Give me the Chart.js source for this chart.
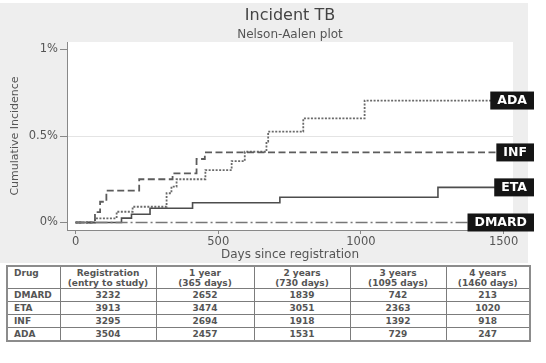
<!DOCTYPE html>
<html lang="en">
<head>
<meta charset="UTF-8">
<title>Incident TB</title>
<script src="https://cdn.jsdelivr.net/npm/chart.js"></script>
<style>
  body { margin: 0; background: #fff; }
  #wrap { position: relative; width: 546px; height: 363px; }
  #tbChart { position: absolute; left: 0; top: 0; }
  #riskTable {
    position: absolute; left: 6px; top: 265px; width: 523px;
    border-collapse: collapse; table-layout: fixed;
    font: bold 9px "DejaVu Sans", sans-serif; color: #555;
    border: 2px solid #8c8c8c;
  }
  #riskTable td, #riskTable th {
    border: 1px solid #7c7c7c; padding: 0; text-align: center;
    line-height: 12px; height: 12px; font-weight: bold;
  }
  #riskTable th { vertical-align: top; line-height: 10px; height: 20px; padding-top: 1px; }
  #riskTable .drug { text-align: left; padding-left: 6px; }
</style>
</head>
<body>
<div id="wrap">
  <canvas id="tbChart" width="546" height="265"></canvas>
  <table id="riskTable"></table>
</div>

<script>
// Nelson-Aalen cumulative incidence (%), step times in days
const dmardDays = [0, 1500];
const dmardInc  = [0, 0];
const etaDays = [0, 161, 196, 261, 410, 716, 1270, 1500];
const etaInc  = [0, 0.025, 0.048, 0.082, 0.114, 0.146, 0.203, 0.203];
const infDays = [0, 68, 86, 108, 223, 340, 424, 453, 1500];
const infInc  = [0, 0.06, 0.12, 0.184, 0.25, 0.284, 0.367, 0.405, 0.405];
const adaDays = [0, 68, 144, 200, 319, 336, 354, 455, 547, 593, 669, 675, 798, 1013, 1500];
const adaInc  = [0, 0.024, 0.062, 0.091, 0.169, 0.207, 0.25, 0.303, 0.355, 0.409, 0.467, 0.525, 0.602, 0.705, 0.705];

const xTicks = [0, 500, 1000, 1500];
const yTicks = [0, 0.5, 1];

// numbers at risk
const tableHeaders = [["Drug"], ["Registration", "(entry to study)"], ["1 year", "(365 days)"],
                      ["2 years", "(730 days)"], ["3 years", "(1095 days)"], ["4 years", "(1460 days)"]];
const tableDrugs = ["DMARD", "ETA", "INF", "ADA"];
const atRisk = [
    [3232, 2652, 1839, 742, 213],
    [3913, 3474, 3051, 2363, 1020],
    [3295, 2694, 1918, 1392, 918],
    [3504, 2457, 1531, 729, 247]
];

const FONT = '"DejaVu Sans", sans-serif';

function toPoints(days, inc) {
    return days.map((d, i) => ({ x: d, y: inc[i] }));
}

// grey graph region, white plot region, titles
const panelPlugin = {
    id: "panel",
    beforeDraw(chart) {
        const { ctx, chartArea } = chart;
        ctx.save();
        ctx.fillStyle = "#eeeeee";
        ctx.fillRect(0, 3, 528, 260);
        ctx.fillStyle = "#ffffff";
        ctx.fillRect(chartArea.left, chartArea.top, chartArea.right - chartArea.left, chartArea.bottom - chartArea.top);
        ctx.restore();
    },
    afterDraw(chart) {
        const { ctx, chartArea } = chart;
        const cx = (chartArea.left + chartArea.right) / 2;
        ctx.save();
        ctx.textAlign = "center";
        ctx.textBaseline = "middle";
        ctx.fillStyle = "#444";
        ctx.font = "16px " + FONT;
        ctx.fillText("Incident TB", cx, 16);
        ctx.font = "12px " + FONT;
        ctx.fillStyle = "#555";
        ctx.fillText("Nelson-Aalen plot", cx, 35);
        ctx.restore();
    }
};

// black name boxes at the end of each curve
const endLabels = {
    id: "endLabels",
    afterDatasetsDraw(chart) {
        const { ctx } = chart;
        ctx.save();
        ctx.font = "bold 12.5px " + FONT;
        ctx.textBaseline = "middle";
        ctx.textAlign = "center";
        chart.data.datasets.forEach((ds, i) => {
            const pts = chart.getDatasetMeta(i).data;
            const y = pts[pts.length - 1].y;
            const w = ctx.measureText(ds.label).width + 14;
            const right = 534;
            ctx.fillStyle = "#151515";
            ctx.fillRect(right - w, y - 9, w, 18);
            ctx.fillStyle = "#ffffff";
            ctx.fillText(ds.label, right - w / 2, y + 0.5);
        });
        ctx.restore();
    }
};

const ctx = document.getElementById("tbChart").getContext("2d");
const tbChart = new Chart(ctx, {
    type: "line",
    data: {
        datasets: [
            { label: "DMARD", data: toPoints(dmardDays, dmardInc), borderColor: "#777", borderWidth: 1.6, borderDash: [12, 3, 2, 3] },
            { label: "ETA", data: toPoints(etaDays, etaInc), borderColor: "#4d4d4d", borderWidth: 1.6 },
            { label: "INF", data: toPoints(infDays, infInc), borderColor: "#5c5c5c", borderWidth: 1.8, borderDash: [7, 3.5] },
            { label: "ADA", data: toPoints(adaDays, adaInc), borderColor: "#6a6a6a", borderWidth: 1.8, borderDash: [2, 1.5] }
        ]
    },
    options: {
        responsive: false,
        animation: false,
        layout: { padding: { top: 42, right: 33, bottom: 0, left: 0 } },
        elements: { point: { radius: 0 }, line: { stepped: true, tension: 0 } },
        plugins: { legend: { display: false }, tooltip: { enabled: false } },
        scales: {
            x: {
                type: "linear",
                min: -30,
                max: 1533,
                afterBuildTicks: s => { s.ticks = xTicks.map(v => ({ value: v })); },
                afterFit: s => { s.height = 35; },
                ticks: { font: { family: FONT, size: 11.5 }, color: "#555", padding: 1,
                         callback: v => String(v) },
                grid: { drawOnChartArea: false, tickLength: 4, tickColor: "#888" },
                border: { color: "#888", width: 1 },
                title: { display: true, text: "Days since registration", color: "#555",
                         font: { family: FONT, size: 12 }, padding: { top: 0, bottom: 3 } }
            },
            y: {
                min: -0.0434,
                max: 1.0434,
                afterBuildTicks: s => { s.ticks = yTicks.map(v => ({ value: v })); },
                afterFit: s => { s.width = 67; },
                ticks: { font: { family: FONT, size: 11.5 }, color: "#555", padding: 2,
                         callback: v => v + "%" },
                grid: {
                    color: c => (c.tick && c.tick.value === 0.5) ? "#e4e4e4" : "rgba(0,0,0,0)",
                    tickLength: 7, tickColor: "#888"
                },
                border: { color: "#888", width: 1 },
                title: { display: true, text: "Cumulative Incidence", color: "#555",
                         font: { family: FONT, size: 11 }, padding: { top: 9, bottom: 0 } }
            }
        }
    },
    plugins: [panelPlugin, endLabels]
});

// number-at-risk table
function buildTable() {
    const table = document.getElementById("riskTable");
    const widths = [53, 96, 98, 96, 96, 84];
    let html = "<colgroup>" + widths.map(w => `<col style="width:${w}px">`).join("") + "</colgroup>";
    html += "<tr>" + tableHeaders.map((h, i) =>
        `<th class="${i === 0 ? "drug" : ""}">${h.join("<br>")}</th>`).join("") + "</tr>";
    tableDrugs.forEach((drug, r) => {
        html += `<tr><td class="drug">${drug}</td>` + atRisk[r].map(n => `<td>${n}</td>`).join("") + "</tr>";
    });
    table.innerHTML = html;
}
buildTable();
</script>
</body>
</html>
